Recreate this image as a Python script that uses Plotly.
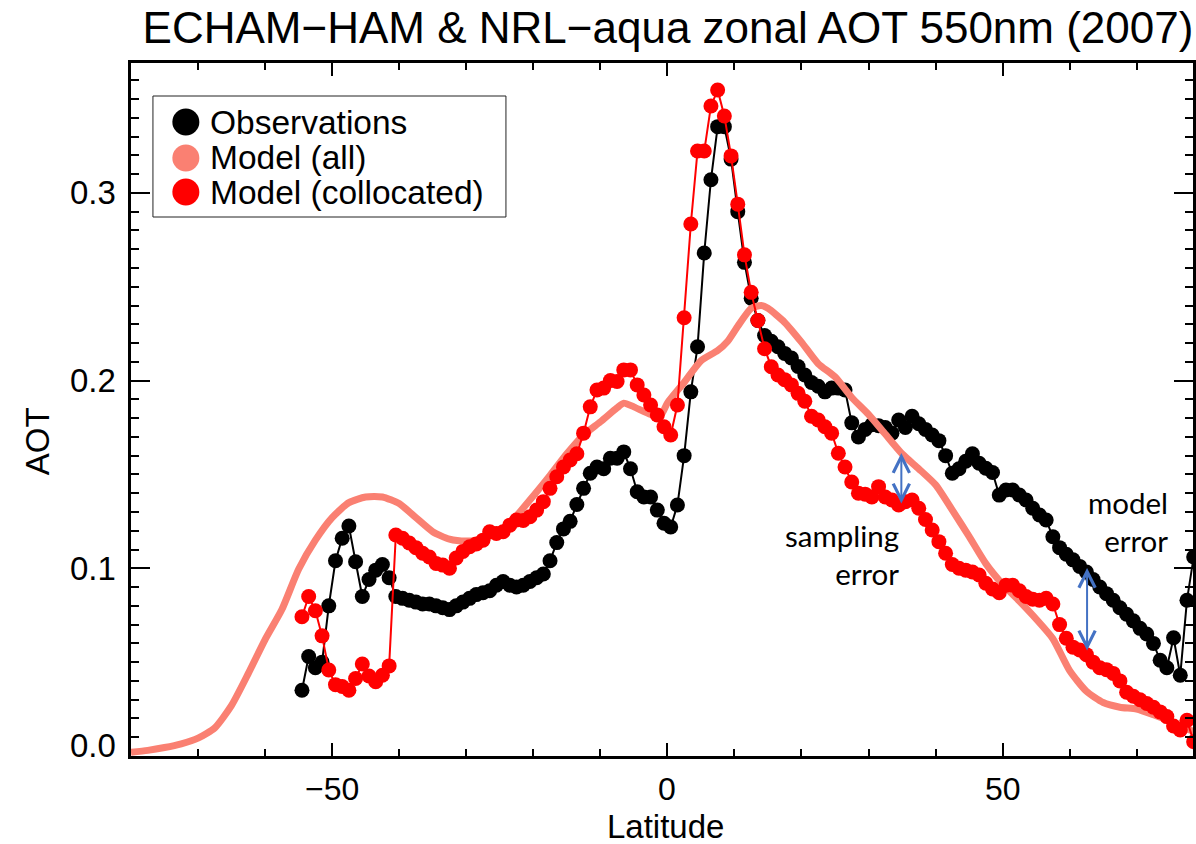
import plotly.graph_objects as go

# ---------------- data ----------------
lat = [-54.5, -53.5, -52.5, -51.5, -50.5, -49.5, -48.5, -47.5, -46.5, -45.5,
       -44.5, -43.5, -42.5, -41.5, -40.5, -39.5, -38.5, -37.5, -36.5, -35.5,
       -34.5, -33.5, -32.5, -31.5, -30.5, -29.5, -28.5, -27.5, -26.5, -25.5,
       -24.5, -23.5, -22.5, -21.5, -20.5, -19.5, -18.5, -17.5, -16.5, -15.5,
       -14.5, -13.5, -12.5, -11.5, -10.5, -9.5, -8.5, -7.5, -6.5, -5.5,
       -4.5, -3.5, -2.5, -1.5, -0.5, 0.5, 1.5, 2.5, 3.5, 4.5,
       5.5, 6.5, 7.5, 8.5, 9.5, 10.5, 11.5, 12.5, 13.5, 14.5,
       15.5, 16.5, 17.5, 18.5, 19.5, 20.5, 21.5, 22.5, 23.5, 24.5,
       25.5, 26.5, 27.5, 28.5, 29.5, 30.5, 31.5, 32.5, 33.5, 34.5,
       35.5, 36.5, 37.5, 38.5, 39.5, 40.5, 41.5, 42.5, 43.5, 44.5,
       45.5, 46.5, 47.5, 48.5, 49.5, 50.5, 51.5, 52.5, 53.5, 54.5,
       55.5, 56.5, 57.5, 58.5, 59.5, 60.5, 61.5, 62.5, 63.5, 64.5,
       65.5, 66.5, 67.5, 68.5, 69.5, 70.5, 71.5, 72.5, 73.5, 74.5,
       75.5, 76.5, 77.5, 78.5]

observations = [0.035, 0.053, 0.047, 0.050, 0.080, 0.104, 0.116, 0.1225, 0.1035, 0.085,
                0.094, 0.099, 0.102, 0.095, 0.085, 0.084, 0.083, 0.082, 0.081, 0.081,
                0.080, 0.079, 0.078, 0.080, 0.082, 0.084, 0.086, 0.087, 0.088, 0.091,
                0.093, 0.091, 0.090, 0.091, 0.093, 0.095, 0.097, 0.104, 0.1137, 0.121,
                0.125, 0.134, 0.1426, 0.1506, 0.154, 0.153, 0.1586, 0.1586, 0.162, 0.153,
                0.1408, 0.138, 0.138, 0.131, 0.124, 0.122, 0.1337, 0.160, 0.194, 0.218,
                0.268, 0.307, 0.3353, 0.3353, 0.318, 0.290, 0.263, 0.2439, 0.232, 0.224,
                0.221, 0.218, 0.2145, 0.212, 0.2075, 0.203, 0.199, 0.197, 0.194, 0.196,
                0.196, 0.195, 0.1775, 0.170, 0.174, 0.1765, 0.176, 0.175, 0.172, 0.179,
                0.175, 0.181, 0.177, 0.174, 0.171, 0.168, 0.160, 0.1506, 0.153, 0.157,
                0.161, 0.156, 0.1533, 0.151, 0.139, 0.1417, 0.1417, 0.139, 0.1364, 0.132,
                0.1284, 0.1257, 0.1168, 0.111, 0.1075, 0.1045, 0.101, 0.098, 0.094, 0.090,
                0.0865, 0.083, 0.079, 0.0755, 0.072, 0.068, 0.065, 0.060, 0.051, 0.047,
                0.063, 0.043, 0.083, 0.106]

model_collocated = [0.0742, 0.085, 0.0774, 0.064, 0.0458, 0.038, 0.037, 0.035, 0.0413, 0.049,
                    0.0426, 0.0396, 0.043, 0.048, 0.1177, 0.116, 0.1135, 0.111, 0.108, 0.106,
                    0.1026, 0.1017, 0.100, 0.1055, 0.109, 0.1115, 0.113, 0.115, 0.1195, 0.1186,
                    0.1195, 0.123, 0.1257, 0.1255, 0.1275, 0.131, 0.1355, 0.1426, 0.1488, 0.154,
                    0.1577, 0.161, 0.172, 0.186, 0.195, 0.196, 0.200, 0.1995, 0.2057, 0.2057,
                    0.1977, 0.1923, 0.187, 0.1817, 0.1754, 0.171, 0.187, 0.2335, 0.2834, 0.3223,
                    0.3223, 0.3463, 0.3548, 0.341, 0.3197, 0.294, 0.267, 0.247, 0.232, 0.217,
                    0.2074, 0.203, 0.2005, 0.1977, 0.1932, 0.189, 0.181, 0.179, 0.1754, 0.172,
                    0.1613, 0.154, 0.146, 0.140, 0.1395, 0.138, 0.1435, 0.138, 0.1364, 0.1337,
                    0.1355, 0.1364, 0.132, 0.126, 0.1204, 0.1142, 0.108, 0.102, 0.100, 0.099,
                    0.098, 0.0964, 0.092, 0.089, 0.087, 0.091, 0.091, 0.088, 0.085, 0.0835,
                    0.083, 0.084, 0.081, 0.070, 0.0627, 0.058, 0.0565, 0.054, 0.050, 0.047,
                    0.046, 0.044, 0.040, 0.034, 0.0318, 0.030, 0.028, 0.026, 0.0235, 0.021,
                    0.016, 0.0139, 0.019, 0.0076]

lat_model_all = [-80, -77.5, -75, -72.5, -70, -67.5, -65, -62.5, -60, -57.5,
                 -55, -52.5, -50, -47.5, -45, -42.5, -40, -37.5, -35, -32.5,
                 -30, -27.5, -25, -22.5, -20, -17.5, -15, -12.5, -10, -7.5,
                 -6.5, -5, -2.5, -1, 0, 2.5, 5, 7.5, 9, 10.5,
                 12.5, 14, 15, 17.5, 20, 22.5, 25, 27.5, 30, 32.5,
                 35, 37.5, 40, 42.5, 45, 47.5, 50, 52.5, 55, 57.5,
                 60, 62.5, 65, 67.5, 70, 72.5, 75, 77.5, 80]
model_all = [0.002, 0.003, 0.0045, 0.0065, 0.0095, 0.015, 0.027, 0.044, 0.062, 0.078,
             0.0995, 0.115, 0.127, 0.135, 0.138, 0.138, 0.1345, 0.127, 0.1195, 0.1155,
             0.1145, 0.1155, 0.120, 0.128, 0.1385, 0.1495, 0.161, 0.171, 0.178, 0.1855,
             0.188, 0.186, 0.182, 0.1815, 0.188, 0.199, 0.2105, 0.216, 0.221, 0.229,
             0.2385, 0.240, 0.2385, 0.231, 0.2205, 0.209, 0.202, 0.191, 0.182, 0.1715,
             0.161, 0.153, 0.1445, 0.131, 0.117, 0.1025, 0.0915, 0.0825, 0.073, 0.0625,
             0.0455, 0.0345, 0.0285, 0.026, 0.025, 0.022, 0.0185, 0.0145, 0.011]

assert len(lat) == len(observations) == len(model_collocated)
assert len(lat_model_all) == len(model_all)

x_ticks = [-50, 0, 50]
x_tick_labels = ["\u221250", "0", "50"]
y_ticks = [0.0, 0.1, 0.2, 0.3]
y_tick_labels = ["0.0", "0.1", "0.2", "0.3"]
legend_names = ["Observations", "Model (all)", "Model (collocated)"]
legend_colors = ["black", "#FA8072", "#FF0000"]

# ---------------- figure ----------------
FONT = "Liberation Sans"
W, H = 1196, 844
L, R, T, B = 131, 0, 63, 88

fig = go.Figure()
fig.add_trace(go.Scatter(x=lat, y=observations, mode="lines+markers",
                         line=dict(color="black", width=2),
                         marker=dict(color="black", size=15),
                         name=legend_names[0], showlegend=False))
fig.add_trace(go.Scatter(x=lat_model_all, y=model_all, mode="lines",
                         line=dict(color="#FA8072", width=7, shape="spline", smoothing=0.6),
                         name=legend_names[1], showlegend=False))
fig.add_trace(go.Scatter(x=lat, y=model_collocated, mode="lines+markers",
                         line=dict(color="#FF0000", width=2),
                         marker=dict(color="#FF0000", size=15),
                         name=legend_names[2], showlegend=False))

pw = W - L - R
ph = H - T - B


def px2paper_x(p):
    return (p - L) / pw


def px2paper_y(p):
    return (H - B - p) / ph


# manual legend box
shapes = [dict(type="rect", xref="paper", yref="paper",
               x0=px2paper_x(153), x1=px2paper_x(507),
               y0=px2paper_y(217), y1=px2paper_y(96),
               line=dict(color="#222222", width=1), fillcolor="white", layer="above")]
annotations = []
rows = [122, 158, 192]
for name, col, ry in zip(legend_names, legend_colors, rows):
    shapes.append(dict(type="circle", xref="paper", yref="paper",
                       xsizemode="pixel", ysizemode="pixel",
                       xanchor=px2paper_x(186), yanchor=px2paper_y(ry),
                       x0=-13.5, x1=13.5, y0=-13.5, y1=13.5,
                       fillcolor=col, line=dict(width=0), layer="above"))
    annotations.append(dict(xref="paper", yref="paper", x=px2paper_x(208), y=px2paper_y(ry),
                            xanchor="left", yanchor="middle", showarrow=False, text=name,
                            font=dict(family=FONT, size=33.5, color="black")))

# y tick labels (the 0.0 label sits slightly above its tick, as in the original)
for v, lab in zip(y_ticks, y_tick_labels):
    annotations.append(dict(xref="paper", yref="y", x=px2paper_x(118), y=v,
                            xanchor="right", yanchor="middle", showarrow=False, text=lab,
                            yshift=11 if v == 0 else 0,
                            font=dict(family=FONT, size=33, color="black")))

# x tick labels
for v, lab in zip(x_ticks, x_tick_labels):
    annotations.append(dict(xref="x", yref="paper", x=v, y=px2paper_y(789),
                            xanchor="center", yanchor="middle", showarrow=False, text=lab,
                            font=dict(family=FONT, size=32, color="black")))

# axis titles
annotations.append(dict(xref="paper", yref="paper", x=px2paper_x(667), y=px2paper_y(826),
                        xanchor="center", yanchor="middle", showarrow=False, text="Latitude",
                        font=dict(family=FONT, size=33, color="black")))
annotations.append(dict(xref="paper", yref="paper", x=px2paper_x(37), y=px2paper_y(441),
                        xanchor="center", yanchor="middle", showarrow=False, text="AOT",
                        textangle=-90, font=dict(family=FONT, size=33, color="black")))

# text annotations
annotations.append(dict(xref="paper", yref="paper", x=px2paper_x(903), y=px2paper_y(554),
                        xanchor="right", yanchor="middle", align="right", showarrow=False,
                        text="sampling<br>error", font=dict(family="Lato", size=29.5, color="black")))
annotations.append(dict(xref="paper", yref="paper", x=px2paper_x(1173), y=px2paper_y(521),
                        xanchor="right", yanchor="middle", align="right", showarrow=False,
                        text="model<br>error", font=dict(family="Lato", size=29.5, color="black")))

# double-headed arrows
for (ax_lat, y_top, y_bot) in [(34.9, 0.1614, 0.1337), (62.6, 0.1002, 0.0554)]:
    annotations.append(dict(x=ax_lat, y=y_top, ax=ax_lat, ay=y_bot, xref="x", yref="y",
                            axref="x", ayref="y", text="", showarrow=True,
                            arrowhead=5, startarrowhead=5, arrowside="end+start",
                            arrowsize=1.6, startarrowsize=1.6, arrowwidth=2,
                            arrowcolor="#4472C4", standoff=0, startstandoff=0))

fig.update_layout(
    width=W, height=H,
    margin=dict(l=L, r=R, t=T, b=B, pad=0),
    paper_bgcolor="white", plot_bgcolor="white",
    showlegend=False,
    title=dict(text="ECHAM\u2212HAM & NRL\u2212aqua zonal AOT 550nm (2007)",
               x=668 / W, xanchor="center", xref="container",
               y=1 - 28 / H, yanchor="middle", yref="container",
               font=dict(family=FONT, size=44, color="black")),
    shapes=shapes,
    annotations=annotations,
)

fig.update_xaxes(
    range=[-80, 78.4], showgrid=False, zeroline=False,
    showline=True, linecolor="black", linewidth=2.5, mirror="ticks",
    ticks="inside", ticklen=13, tickwidth=2, tickcolor="black",
    tickvals=x_ticks, showticklabels=False,
    minor=dict(dtick=10, tick0=0, ticks="inside", ticklen=7, tickwidth=1.5, tickcolor="black"),
)
fig.update_yaxes(
    range=[0, 0.3692], showgrid=False, zeroline=False,
    showline=True, linecolor="black", linewidth=2.5, mirror="ticks",
    ticks="inside", ticklen=19, tickwidth=2, tickcolor="black",
    tickvals=y_ticks, showticklabels=False,
    minor=dict(dtick=0.01, tick0=0, ticks="inside", ticklen=8, tickwidth=1.5, tickcolor="black"),
)

fig.write_html("out.html")
